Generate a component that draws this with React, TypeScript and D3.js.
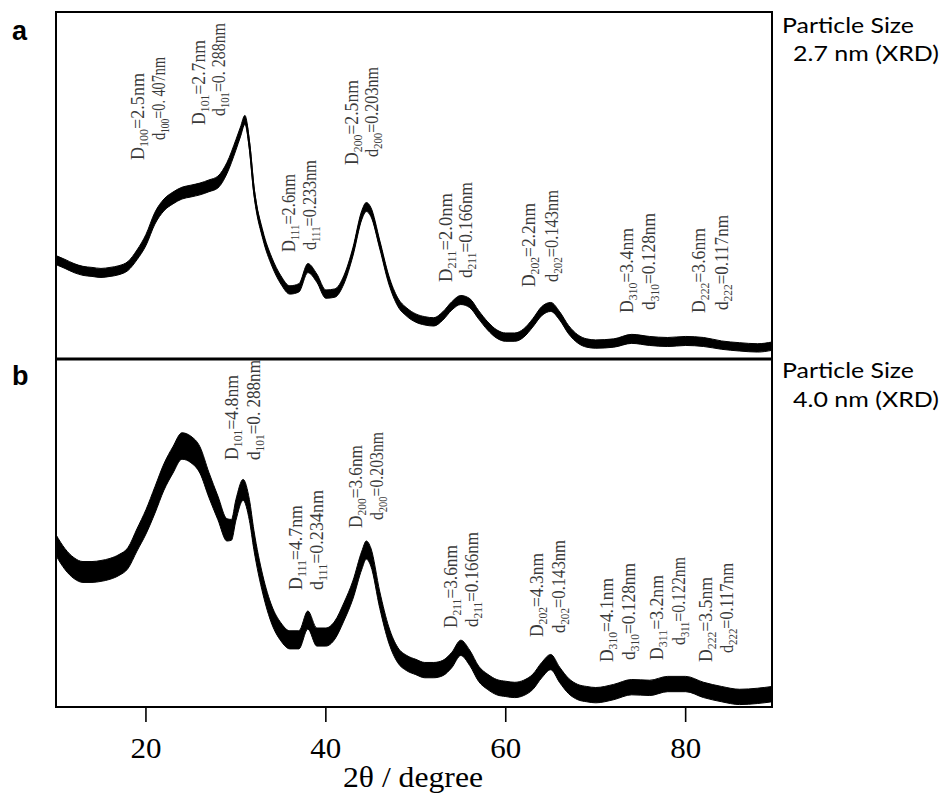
import React from "react";
import * as d3 from "d3";

// ---- Data ----
const thetaA = [10,11,12,13,14,15,16,17,18,19,20,21,22,23,24,25,26,27,28,29,30,30.5,31,31.5,32,33,34,35,36,37,38,39,40,41,42,43,44,44.5,45,46,47,48,49,50,51,52,53,54,55,56,57,58,59,60,61,62,63,64,65,66,67,68,69,70,72,74,76,78,80,82,84,86,88,89.6];
const intensityA = [28.5,27.4,26.2,25.4,25.1,24.8,25.1,25.6,26.8,30.0,34.3,40.6,44.4,46.4,47.8,48.4,49.0,49.9,51.0,55.0,61.7,65.4,68.9,61.7,48.7,35.7,28.0,22.8,19.9,20.5,26.2,23.3,18.7,19.0,22.8,30.8,41.5,43.8,42.4,32.9,22.8,16.4,13.5,11.8,11.0,10.7,12.4,15.3,17.0,16.1,12.7,9.5,7.2,6.3,6.3,7.5,10.4,13.8,15.0,12.4,8.4,5.8,4.6,4.3,4.6,5.8,5.2,4.9,5.2,4.9,4.0,3.5,3.2,3.7];
const noiseA = [1.3,1.3,1.3,1.3,1.3,1.3,1.3,1.3,1.3,1.4,1.6,1.7,1.7,1.7,1.7,1.7,1.7,1.7,1.7,1.6,1.5,1.4,1.3,1.3,1.2,1.2,1.2,1.2,1.2,1.2,1.3,1.2,1.2,1.2,1.2,1.2,1.3,1.3,1.3,1.2,1.2,1.2,1.2,1.2,1.2,1.2,1.2,1.2,1.3,1.3,1.2,1.2,1.2,1.2,1.2,1.2,1.2,1.3,1.3,1.2,1.2,1.2,1.2,1.2,1.2,1.3,1.3,1.3,1.3,1.3,1.2,1.2,1.2,1.2];

const thetaB = [10,11,12,13,14,15,16,17,18,19,20,21,22,23,24,25,26,27,28,29,29.5,30,30.8,31.5,32,33,34,35,36,37,38,39,40,41,42,43,44,44.5,45,46,47,48,49,50,51,52,53,54,55,56,57,58,59,60,61,62,63,64,65,66,67,68,69,70,72,74,76,78,80,82,84,86,88,89.6];
const intensityB = [46.5,42.5,39.9,38.8,38.8,39.1,39.7,40.8,42.8,48.0,53.2,59.5,66.1,71.0,75.0,74.0,71.0,63.8,57.2,50.9,50.9,56.6,62.4,56.6,48.0,35.1,26.4,21.6,19.3,19.3,25.0,20.1,20.1,22.1,27.3,33.6,42.2,45.1,43.1,30.7,20.7,14.9,12.6,11.5,10.6,10.6,11.2,13.5,17.0,14.1,9.5,7.2,5.7,5.2,4.9,5.5,7.2,10.6,12.9,9.2,6.0,4.3,3.7,3.4,4.3,5.7,5.5,6.6,6.6,4.9,3.7,2.9,3.2,3.7];
const noiseB = [3.0,3.0,3.0,3.0,3.0,3.0,3.0,3.0,3.0,3.2,3.5,3.8,3.8,3.8,3.8,3.8,3.8,3.6,3.4,3.2,3.0,3.0,3.0,3.0,2.8,2.6,2.6,2.6,2.6,2.6,2.6,2.6,2.6,2.6,2.6,2.6,2.6,2.6,2.6,2.4,2.3,2.2,2.2,2.2,2.2,2.2,2.2,2.2,2.2,2.2,2.2,2.2,2.2,2.2,2.2,2.2,2.2,2.2,2.2,2.2,2.2,2.2,2.2,2.2,2.2,2.2,2.2,2.2,2.2,2.2,2.2,2.2,2.2,2.2];

const xTicks = [20, 40, 60, 80];

// annotation texts
const hklA = ["100","101","111","200","211","202","310","222"];
const sizeA = ["2.5","2.7","2.6","2.5","2.0","2.2","3.4","3.6"];
const dA = ["0. 407","0. 288","0.233","0.203","0.166","0.143","0.128","0.117"];
const hklB = ["101","111","200","211","202","310","311","222"];
const sizeB = ["4.8","4.7","3.6","3.6","4.3","4.1","3.2","3.5"];
const dB = ["0. 288","0.234","0.203","0.166","0.143","0.128","0.122","0.117"];

const particleA = "2.7 nm (XRD)";
const particleB = "4.0 nm (XRD)";

// ---- Layout ----
const W = 944, H = 797;
const L = 56, R = 772;
const TOP_A = 12, BOT_A = 359, TOP_B = 359, BOT_B = 707;
// [xD, yD, lenD, xd, yd, lend] label column centres / bottoms / lengths
const posA = [
  [139,160,87,160,140,83],[200,125,85,220,116,93],[290,252,78,311,250,90],[353,165,85,373,157,90],
  [447,282,89,467,278,96],[530,287,84,553,282,92],[628,313,85,650,310,97],[700,313,85,723,310,95]];
const posB = [
  [233,460,85,255,460,100],[297,590,85,318,590,100],[357,528,83,378,520,88],[452,628,83,473,627,95],
  [538,637,84,560,633,93],[608,662,84,630,660,97],[658,660,85,680,645,88],[707,662,85,728,653,90]];

const SERIF = "Liberation Serif, Times New Roman, Times, serif";

function Label({ x, y, len, big, hkl, rest }: { x: number; y: number; len: number; big: string; hkl: string; rest: string }) {
  return (
    <text
      transform={`translate(${x + 5},${y}) rotate(-90)`}
      fontFamily={SERIF}
      fontSize={18}
      fill="#3a3a3a"
      textLength={len}
      lengthAdjust="spacingAndGlyphs"
    >
      {big}
      <tspan fontSize={12} dy={4}>{hkl}</tspan>
      <tspan dy={-4}>{rest}</tspan>
    </text>
  );
}

function Trace({ theta, vals, noise, y, x }: any) {
  const pts = theta.map((t: number, i: number) => ({ t, v: vals[i], n: noise[i] }));
  const area = d3
    .area<any>()
    .x((d) => x(d.t))
    .y0((d) => y(d.v - d.n))
    .y1((d) => y(d.v + d.n))
    .curve(d3.curveMonotoneX);
  const line = d3
    .line<any>()
    .x((d) => x(d.t))
    .y((d) => y(d.v))
    .curve(d3.curveMonotoneX);
  return (
    <g>
      <path d={area(pts) || ""} fill="#000" stroke="#000" strokeWidth={1} />
      <path d={line(pts) || ""} fill="none" stroke="#000" strokeWidth={2} />
    </g>
  );
}

export default function App() {
  const x = d3.scaleLinear().domain([10, 89.6]).range([L, R]);
  const yA = d3.scaleLinear().domain([0, 100]).range([BOT_A, TOP_A]);
  const yB = d3.scaleLinear().domain([0, 100]).range([BOT_B, TOP_B]);

  return (
    <svg width={W} height={H} style={{ position: "absolute", left: 0, top: 0, background: "#fff" }}>
      <defs>
        <clipPath id="clipA"><rect x={L} y={TOP_A} width={R - L} height={BOT_A - TOP_A} /></clipPath>
        <clipPath id="clipB"><rect x={L} y={TOP_B} width={R - L} height={BOT_B - TOP_B} /></clipPath>
      </defs>
      <rect x={0} y={0} width={W} height={H} fill="#fff" />

      <g clipPath="url(#clipA)">
        <Trace theta={thetaA} vals={intensityA} noise={noiseA} x={x} y={yA} />
      </g>
      <g clipPath="url(#clipB)">
        <Trace theta={thetaB} vals={intensityB} noise={noiseB} x={x} y={yB} />
      </g>

      {hklA.map((h, i) => (
        <g key={"a" + i}>
          <Label x={posA[i][0]} y={posA[i][1]} len={posA[i][2]} big="D" hkl={h} rest={`=${sizeA[i]}nm`} />
          <Label x={posA[i][3]} y={posA[i][4]} len={posA[i][5]} big="d" hkl={h} rest={`=${dA[i]}nm`} />
        </g>
      ))}
      {hklB.map((h, i) => (
        <g key={"b" + i}>
          <Label x={posB[i][0]} y={posB[i][1]} len={posB[i][2]} big="D" hkl={h} rest={`=${sizeB[i]}nm`} />
          <Label x={posB[i][3]} y={posB[i][4]} len={posB[i][5]} big="d" hkl={h} rest={`=${dB[i]}nm`} />
        </g>
      ))}

      <rect x={L} y={TOP_A} width={R - L} height={BOT_A - TOP_A} fill="none" stroke="#000" strokeWidth={2} />
      <rect x={L} y={TOP_B} width={R - L} height={BOT_B - TOP_B} fill="none" stroke="#000" strokeWidth={2} />
      <line x1={L} x2={R} y1={BOT_A} y2={BOT_A} stroke="#000" strokeWidth={3} />

      {xTicks.map((t) => (
        <g key={t}>
          <line x1={x(t)} x2={x(t)} y1={BOT_B} y2={BOT_B + 15} stroke="#000" strokeWidth={1.6} />
          <text x={x(t)} y={758} textAnchor="middle" fontFamily={SERIF} fontSize={29} textLength={31} lengthAdjust="spacingAndGlyphs">
            {t}
          </text>
        </g>
      ))}
      <text x={413} y={787} textAnchor="middle" fontFamily={SERIF} fontSize={29} textLength={140} lengthAdjust="spacingAndGlyphs">
        2θ / degree
      </text>

      <text x={12} y={40} fontFamily="Liberation Sans, Arial, sans-serif" fontWeight="bold" fontSize={27}>a</text>
      <text x={12} y={385} fontFamily="Liberation Sans, Arial, sans-serif" fontWeight="bold" fontSize={27}>b</text>

      <text x={782} y={33} fontFamily="Lato, Open Sans, sans-serif" fontSize={21} textLength={132} lengthAdjust="spacingAndGlyphs">Particle Size</text>
      <text x={793} y={61} fontFamily="Lato, Open Sans, sans-serif" fontSize={21} textLength={146} lengthAdjust="spacingAndGlyphs">{particleA}</text>
      <text x={782} y={378} fontFamily="Lato, Open Sans, sans-serif" fontSize={21} textLength={132} lengthAdjust="spacingAndGlyphs">Particle Size</text>
      <text x={793} y={407} fontFamily="Lato, Open Sans, sans-serif" fontSize={21} textLength={146} lengthAdjust="spacingAndGlyphs">{particleB}</text>
    </svg>
  );
}
